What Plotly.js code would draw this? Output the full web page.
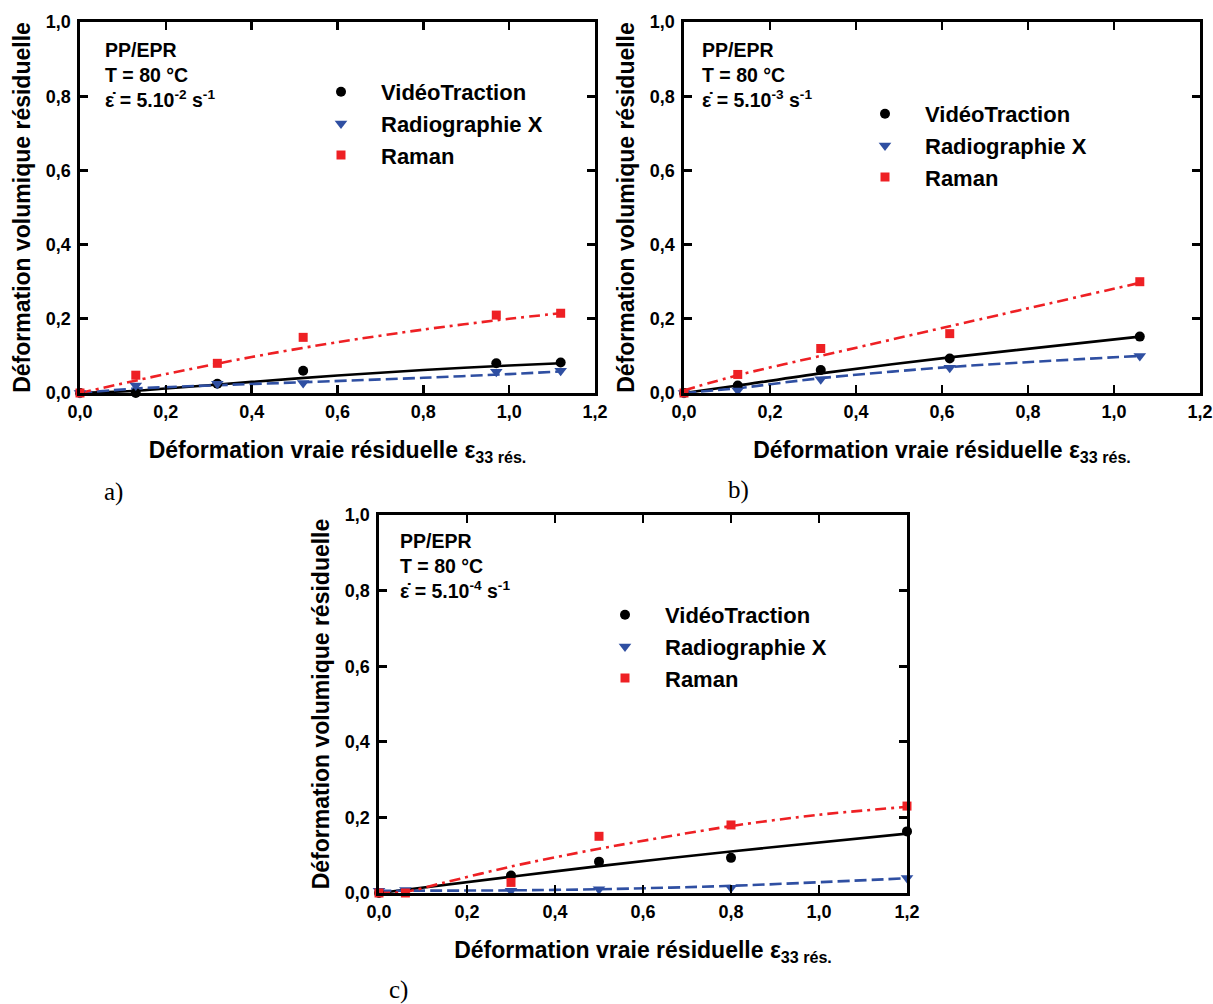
<!DOCTYPE html>
<html>
<head>
<meta charset="utf-8">
<script src="https://cdn.plot.ly/plotly-3.0.1.min.js"></script>
<style>html,body{margin:0;padding:0;background:#fff;}#chart{width:1213px;height:1004px;}</style>
</head>
<body>
<div id="chart"></div>
<script>
// ---------- series names ----------
const seriesNames = ["VidéoTraction", "Radiographie X", "Raman"];
const tickVals = [0, 0.2, 0.4, 0.6, 0.8, 1.0, 1.2];
const yTickVals = [0, 0.2, 0.4, 0.6, 0.8, 1.0];

// ---------- panel a) 5.10-2 s-1 ----------
const aVideoX = [0, 0.13, 0.32, 0.52, 0.97, 1.12];
const aVideoY = [0, 0.0, 0.025, 0.06, 0.08, 0.082];
const aRadioX = [0, 0.13, 0.32, 0.52, 0.97, 1.12];
const aRadioY = [0, 0.02, 0.025, 0.027, 0.057, 0.06];
const aRamanX = [0, 0.13, 0.32, 0.52, 0.97, 1.12];
const aRamanY = [0, 0.048, 0.08, 0.15, 0.21, 0.215];
// fitted curves
const aVideoFitX = [0, 0.13, 0.2, 0.4, 0.6, 0.8, 1.0, 1.12];
const aVideoFitY = [0, 0.006, 0.012, 0.03, 0.047, 0.062, 0.074, 0.08];
const aRadioFitX = [0, 0.13, 0.32, 0.52, 0.8, 1.0, 1.12];
const aRadioFitY = [0, 0.012, 0.021, 0.029, 0.041, 0.051, 0.058];
const aRamanFitX = [0, 0.2, 0.4, 0.6, 0.8, 1.0, 1.12];
const aRamanFitY = [0, 0.051, 0.097, 0.137, 0.171, 0.2, 0.215];

// ---------- panel b) 5.10-3 s-1 ----------
const bVideoX = [0, 0.125, 0.318, 0.618, 1.06];
const bVideoY = [0, 0.02, 0.062, 0.093, 0.152];
const bRadioX = [0, 0.125, 0.318, 0.618, 1.06];
const bRadioY = [0, 0.007, 0.037, 0.068, 0.1];
const bRamanX = [0, 0.125, 0.318, 0.618, 1.06];
const bRamanY = [0, 0.05, 0.12, 0.16, 0.3];
const bVideoFitX = [0, 0.125, 0.318, 0.618, 1.06];
const bVideoFitY = [0, 0.02, 0.053, 0.096, 0.152];
const bRadioFitX = [0, 0.125, 0.318, 0.618, 1.06];
const bRadioFitY = [0, 0.013, 0.04, 0.07, 0.1];
const bRamanFitX = [0, 0.125, 0.318, 0.618, 1.06];
const bRamanFitY = [0.007, 0.048, 0.1, 0.18, 0.297];

// ---------- panel c) 5.10-4 s-1 ----------
const cVideoX = [0, 0.3, 0.5, 0.8, 1.2];
const cVideoY = [0, 0.046, 0.083, 0.093, 0.163];
const cRadioX = [0, 0.06, 0.3, 0.5, 0.8, 1.2];
const cRadioY = [0.006, 0.008, 0.006, 0.01, 0.014, 0.04];
const cRamanX = [0, 0.06, 0.3, 0.5, 0.8, 1.2];
const cRamanY = [0, 0, 0.028, 0.15, 0.18, 0.23];
const cVideoFitX = [0, 0.3, 0.5, 0.8, 1.2];
const cVideoFitY = [0, 0.043, 0.071, 0.11, 0.157];
const cRadioFitX = [0, 0.3, 0.5, 0.8, 1.2];
const cRadioFitY = [0.006, 0.007, 0.01, 0.019, 0.039];
const cRamanFitX = [0, 0.06, 0.15, 0.3, 0.5, 0.8, 1.0, 1.2];
const cRamanFitY = [0, 0.003, 0.028, 0.07, 0.117, 0.177, 0.207, 0.228];

// ---------- annotations text ----------
const panelLabels = ["a)", "b)", "c)"];
const rateTexts = [
  "ε̇ = 5.10<sup>-2</sup> s<sup>-1</sup>",
  "ε̇ = 5.10<sup>-3</sup> s<sup>-1</sup>",
  "ε̇ = 5.10<sup>-4</sup> s<sup>-1</sup>"
];
const materialText = "PP/EPR";
const tempText = "T = 80 °C";
const xTitle = "Déformation vraie résiduelle ε<sub>33 rés.</sub>";
const yTitle = "Déformation volumique résiduelle";

// ---------- styles ----------
const BLACK = "#000000", BLUE = "#2f4fa2", RED = "#ee2024";
const FONT = "Liberation Sans, Arial, Helvetica, sans-serif";
const W = 1213, H = 1004;
// plot-area boxes in px: [left, right, top, bottom]
const boxes = [[80, 595, 22, 393], [684, 1200, 22, 393], [379, 907, 515, 893]];

const fitStyles = [
  {color: BLACK, width: 2.6, dash: "solid"},
  {color: BLUE, width: 2.6, dash: "12px,5px"},
  {color: RED, width: 2.6, dash: "11px,5px,3px,5px"}
];
const markerStyles = [
  {symbol: "circle", size: 10, color: BLACK},
  {symbol: "triangle-down", size: 11, color: BLUE},
  {symbol: "square", size: 9, color: RED}
];

const panels = [
  {pts: [[aVideoX, aVideoY], [aRadioX, aRadioY], [aRamanX, aRamanY]],
   fits: [[aVideoFitX, aVideoFitY], [aRadioFitX, aRadioFitY], [aRamanFitX, aRamanFitY]]},
  {pts: [[bVideoX, bVideoY], [bRadioX, bRadioY], [bRamanX, bRamanY]],
   fits: [[bVideoFitX, bVideoFitY], [bRadioFitX, bRadioFitY], [bRamanFitX, bRamanFitY]]},
  {pts: [[cVideoX, cVideoY], [cRadioX, cRadioY], [cRamanX, cRamanY]],
   fits: [[cVideoFitX, cVideoFitY], [cRadioFitX, cRadioFitY], [cRamanFitX, cRamanFitY]]}
];

const traces = [];
panels.forEach((p, i) => {
  const xa = i === 0 ? "x" : "x" + (i + 1);
  const ya = i === 0 ? "y" : "y" + (i + 1);
  const lg = i === 0 ? "legend" : "legend" + (i + 1);
  p.fits.forEach((f, k) => {
    traces.push({x: f[0], y: f[1], xaxis: xa, yaxis: ya, type: "scatter", mode: "lines",
      line: Object.assign({shape: "spline", smoothing: 0.8}, fitStyles[k]), showlegend: false,
      hoverinfo: "skip", cliponaxis: false});
  });
  p.pts.forEach((d, k) => {
    traces.push({x: d[0], y: d[1], xaxis: xa, yaxis: ya, type: "scatter", mode: "markers",
      name: seriesNames[k], legend: lg, cliponaxis: false,
      marker: {symbol: markerStyles[k].symbol, size: markerStyles[k].size, color: markerStyles[k].color,
        line: {width: 0}}});
  });
});

const layout = {
  width: W, height: H,
  margin: {l: 0, r: 0, t: 0, b: 0},
  paper_bgcolor: "#fff", plot_bgcolor: "#fff",
  separators: ", ",
  font: {family: FONT, color: "#000", size: 16},
  annotations: [],
  showlegend: true
};

const legendPos = [[301, 71], [845, 93], [585, 594]];
const textPos = [[103, 50], [700, 50], [398, 541]];
const letterPos = [[113, 492], [738, 490], [398, 990]];

boxes.forEach((b, i) => {
  const sfx = i === 0 ? "" : String(i + 1);
  const common = {
    showline: true, linecolor: "#000", linewidth: 2.6, mirror: "ticks",
    ticks: "inside", ticklen: 8, tickwidth: 2.6, tickcolor: "#000",
    showgrid: false, zeroline: false, tickformat: ".1f",
    tickfont: {family: FONT, size: 18, color: "#000", weight: "bold"}
  };
  layout["xaxis" + sfx] = Object.assign({}, common, {
    domain: [b[0] / W, b[1] / W], range: [0, 1.2], tickvals: tickVals,
    anchor: "y" + sfx, ticklabelstandoff: 1,
    title: {text: xTitle, font: {family: FONT, size: 23, weight: "bold", color: "#000"}, standoff: 21}
  });
  layout["yaxis" + sfx] = Object.assign({}, common, {
    domain: [1 - b[3] / H, 1 - b[2] / H], range: [0, 1.0], tickvals: yTickVals,
    anchor: "x" + sfx, ticklabelstandoff: 3,
    title: {text: yTitle, font: {family: FONT, size: 23, weight: "bold", color: "#000"}, standoff: 9}
  });
  layout["legend" + sfx] = {
    x: legendPos[i][0] / W, y: 1 - legendPos[i][1] / H, xanchor: "left", yanchor: "top",
    bgcolor: "rgba(0,0,0,0)", borderwidth: 0,
    font: {family: FONT, size: 22, weight: "bold", color: "#000"},
    itemwidth: 70, tracegroupgap: 0
  };
  const lines = [materialText, tempText, rateTexts[i]];
  lines.forEach((t, k) => {
    layout.annotations.push({
      xref: "paper", yref: "paper", x: textPos[i][0] / W, y: 1 - (textPos[i][1] + k * 24.5) / H,
      xanchor: "left", yanchor: "middle", showarrow: false, text: t,
      font: {family: FONT, size: 19.5, weight: "bold", color: "#000"}
    });
  });
  layout.annotations.push({
    xref: "paper", yref: "paper", x: letterPos[i][0] / W, y: 1 - letterPos[i][1] / H,
    xanchor: "center", yanchor: "middle", showarrow: false, text: panelLabels[i],
    font: {family: "Liberation Serif, Times New Roman, serif", size: 25, color: "#000"}
  });
});

Plotly.newPlot("chart", traces, layout, {displayModeBar: false, staticPlot: true});
</script>
</body>
</html>
